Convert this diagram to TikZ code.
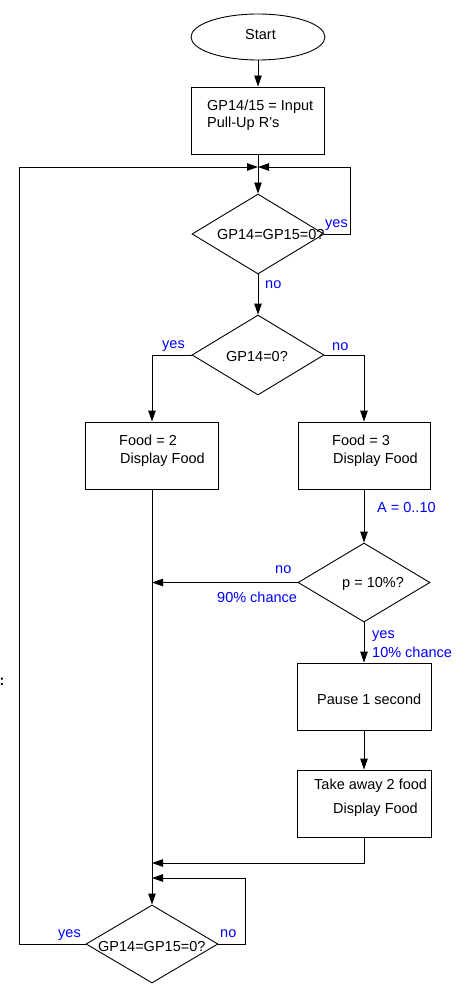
\documentclass[tikz,border=0pt]{standalone}
\usepackage{fontspec}
\setmainfont{Liberation Sans}
\usetikzlibrary{shapes.geometric,arrows.meta}
\tikzset{
  boxnode/.style={draw=black,line width=0.9pt,rectangle,minimum width=133pt,minimum height=67pt,inner sep=0pt},
  decnode/.style={draw=black,line width=0.9pt,diamond,minimum width=132pt,minimum height=80pt,inner sep=0pt},
  txt/.style={inner sep=0pt,anchor=base west,font=\fontsize{14.5}{17}\selectfont,text=black},
  lbl/.style={inner sep=0pt,anchor=base west,font=\fontsize{14.5}{17}\selectfont,text=blue},
  conn/.style={draw=black,line width=0.9pt},
  arr/.style={conn,-{Triangle[length=11pt,width=7.5pt]}}
}
\begin{document}
\begin{tikzpicture}[x=1pt,y=-1pt]
\useasboundingbox (0,0) rectangle (469,984);
% shapes
\node[draw=black,line width=0.9pt,ellipse,minimum width=134pt,minimum height=46pt,inner sep=0pt] (start) at (258,37) {};
\node[boxnode] (init) at (258,120.5) {};
\node[decnode] (d1) at (258,234) {};
\node[decnode] (d2) at (258,355) {};
\node[boxnode] (b2) at (152,455.5) {};
\node[boxnode,minimum width=132pt] (b3) at (364,455.5) {};
\node[decnode,minimum height=79pt] (d3) at (364,582.5) {};
\node[boxnode,minimum width=134pt] (b4) at (364,696.5) {};
\node[boxnode,minimum width=134pt] (b5) at (364,803.5) {};
\node[decnode,minimum height=78pt] (d4) at (152,944) {};
% junction coordinates
\coordinate (J) at (258,167);
\coordinate (LL) at (19,167);
\coordinate (RR) at (350,167);
\coordinate (M1) at (152,582.5);
\coordinate (M2) at (152,863);
\coordinate (M3) at (152,878);
\coordinate (NR) at (245,878);
% texts
\node[txt,anchor=base] (tstart) at (260.5,40) {Start};
\node[txt] (tinit1) at (207,111) {GP14/15 = Input};
\node[txt] (tinit2) at (207,128) {Pull-Up R's};
\node[txt] (td1) at (217,240) {GP14=GP15=0?};
\node[txt] (td2) at (226,361) {GP14=0?};
\node[txt] (tb2a) at (119,445) {Food = 2};
\node[txt] (tb2b) at (120,463) {Display Food};
\node[txt] (tb3a) at (332,445) {Food = 3};
\node[txt] (tb3b) at (333,463) {Display Food};
\node[txt] (td3) at (342,587) {p = 10\%?};
\node[txt] (tb4) at (317,704) {Pause 1 second};
\node[txt] (tb5a) at (314,789) {Take away 2 food};
\node[txt] (tb5b) at (333,813) {Display Food};
\node[txt] (td4) at (98,951) {GP14=GP15=0?};
\node[txt,font=\fontsize{14.5}{17}\selectfont\bfseries] (colon) at (-0.5,685) {:};
% labels
\node[lbl] (l1) at (325,228) {yes};
\node[lbl] (l2) at (265,288) {no};
\node[lbl] (l3) at (162,348) {yes};
\node[lbl] (l4) at (332,350) {no};
\node[lbl] (l5) at (377,512) {A = 0..10};
\node[lbl] (l6) at (275,573) {no};
\node[lbl] (l7) at (217,602) {90\% chance};
\node[lbl] (l8) at (372,638) {yes};
\node[lbl] (l9) at (372,657) {10\% chance};
\node[lbl] (l10) at (58,937) {yes};
\node[lbl] (l11) at (220,937) {no};
% connectors
\draw[arr] (start.south) -- (init.north);
\draw[arr] (init.south) -- (d1.north);
\draw[arr] (d4.west) -| (LL) -- (J);
\draw[arr] (d1.east) -| (RR) -- (J);
\draw[arr] (d1.south) -- (d2.north);
\draw[arr] (d2.west) -| (b2.north);
\draw[arr] (d2.east) -| (b3.north);
\draw[arr] (b3.south) -- (d3.north);
\draw[arr] (d3.west) -- (M1);
\draw[arr] (d3.south) -- (b4.north);
\draw[arr] (b4.south) -- (b5.north);
\draw[arr] (b5.south) |- (M2);
\draw[arr] (b2.south) -- (d4.north);
\draw[arr] (d4.east) -| (NR) -- (M3);
\end{tikzpicture}
\end{document}
